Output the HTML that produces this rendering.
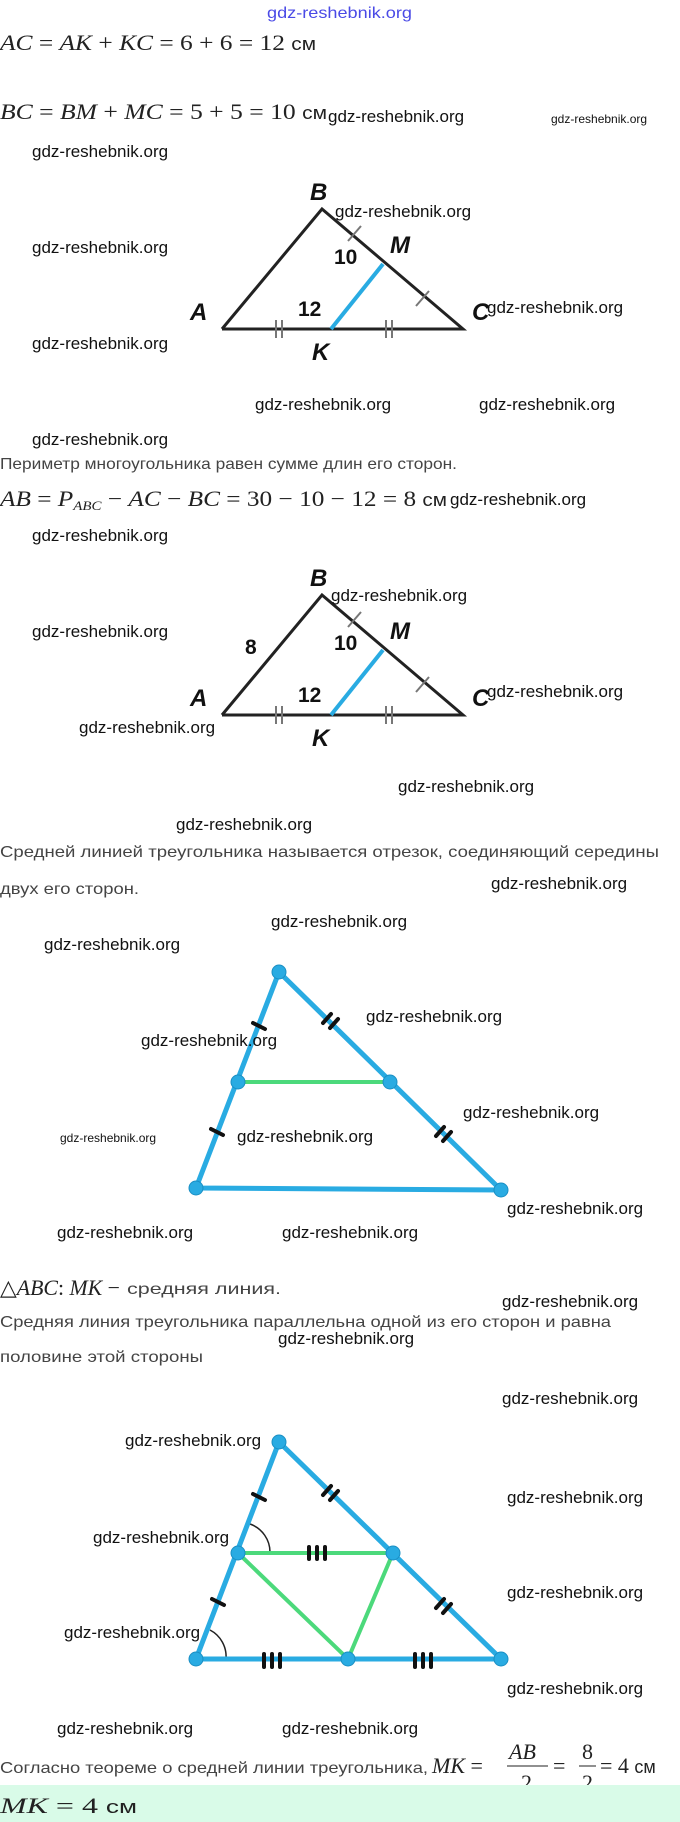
<!DOCTYPE html>
<html><head><meta charset="utf-8"><style>
html,body{margin:0;padding:0;background:#fff;}
svg{display:block}
.w{font-family:"Liberation Sans",sans-serif;font-size:17px;fill:#111;}
.ws{font-family:"Liberation Sans",sans-serif;font-size:12px;fill:#111;}
.m{font-family:"Liberation Serif",serif;font-size:22px;fill:#222;}
.mi{font-style:italic}
.r{font-family:"Liberation Sans","DejaVu Sans",sans-serif;font-size:16px;fill:#444;}
.lb{font-family:"Liberation Sans",sans-serif;font-size:24px;font-weight:bold;font-style:italic;fill:#111;}
.nm{font-family:"Liberation Sans",sans-serif;font-size:21px;font-weight:bold;fill:#111;}
</style></head><body>
<svg width="680" height="1822" viewBox="0 0 680 1822" xmlns="http://www.w3.org/2000/svg">
<text x="267" y="18" font-family="Liberation Sans,sans-serif" font-size="16" fill="#4a4ae6" textLength="145" lengthAdjust="spacingAndGlyphs">gdz-reshebnik.org</text>

<text class="m" x="0" y="50" textLength="316" lengthAdjust="spacingAndGlyphs"><tspan class="mi">AC</tspan> = <tspan class="mi">AK</tspan> + <tspan class="mi">KC</tspan> = 6 + 6 = 12 <tspan font-family="Liberation Sans" font-size="18">см</tspan></text>
<text class="m" x="0" y="119" textLength="327" lengthAdjust="spacingAndGlyphs"><tspan class="mi">BC</tspan> = <tspan class="mi">BM</tspan> + <tspan class="mi">MC</tspan> = 5 + 5 = 10 <tspan font-family="Liberation Sans" font-size="18">см</tspan></text>

<!-- triangle 1 -->
<g>
<polyline points="222,329 322,209 463,329 222,329" fill="none" stroke="#222" stroke-width="3"/>
<line x1="331" y1="329" x2="383" y2="264" stroke="#29abe2" stroke-width="4"/>
<g stroke="#777" stroke-width="2"><line x1="276" y1="320" x2="276" y2="338"/><line x1="282" y1="320" x2="282" y2="338"/><line x1="386" y1="320" x2="386" y2="338"/><line x1="392" y1="320" x2="392" y2="338"/><line x1="348" y1="241" x2="361" y2="226"/><line x1="416" y1="306" x2="429" y2="291"/></g>
<text class="lb" x="310" y="200">B</text><text class="lb" x="190" y="320">A</text><text class="lb" x="472" y="320">C</text><text class="lb" x="312" y="360">K</text><text class="lb" x="390" y="253">M</text>
<text class="nm" x="334" y="264">10</text><text class="nm" x="298" y="316">12</text>
</g>

<text class="r" x="0" y="469" textLength="457" lengthAdjust="spacingAndGlyphs">Периметр многоугольника равен сумме длин его сторон.</text>
<text class="m" x="0" y="506" textLength="447" lengthAdjust="spacingAndGlyphs"><tspan class="mi">AB</tspan> = <tspan class="mi">P</tspan><tspan class="mi" font-size="13" dy="4">ABC</tspan><tspan dy="-4"> − </tspan><tspan class="mi">AC</tspan> − <tspan class="mi">BC</tspan> = 30 − 10 − 12 = 8 <tspan font-family="Liberation Sans" font-size="18">см</tspan></text>

<!-- triangle 2 -->
<g transform="translate(0,386)">
<polyline points="222,329 322,209 463,329 222,329" fill="none" stroke="#222" stroke-width="3"/>
<line x1="331" y1="329" x2="383" y2="264" stroke="#29abe2" stroke-width="4"/>
<g stroke="#777" stroke-width="2"><line x1="276" y1="320" x2="276" y2="338"/><line x1="282" y1="320" x2="282" y2="338"/><line x1="386" y1="320" x2="386" y2="338"/><line x1="392" y1="320" x2="392" y2="338"/><line x1="348" y1="241" x2="361" y2="226"/><line x1="416" y1="306" x2="429" y2="291"/></g>
<text class="lb" x="310" y="200">B</text><text class="lb" x="190" y="320">A</text><text class="lb" x="472" y="320">C</text><text class="lb" x="312" y="360">K</text><text class="lb" x="390" y="253">M</text>
<text class="nm" x="334" y="264">10</text><text class="nm" x="298" y="316">12</text><text class="nm" x="245" y="268">8</text>
</g>

<text class="r" x="0" y="857" textLength="659" lengthAdjust="spacingAndGlyphs">Средней линией треугольника называется отрезок, соединяющий середины</text>
<text class="r" x="0" y="894" textLength="139" lengthAdjust="spacingAndGlyphs">двух его сторон.</text>

<!-- triangle 3 -->
<g>
<polygon points="279,972 196,1188 501,1190" fill="none" stroke="#29abe2" stroke-width="5" stroke-linejoin="round"/>
<line x1="238" y1="1082" x2="390" y2="1082" stroke="#4cd97b" stroke-width="4"/>
<g stroke="#111" stroke-width="4" stroke-linecap="round"><line x1="253" y1="1023" x2="265" y2="1029"/><line x1="211" y1="1129" x2="223" y2="1135"/><line x1="323" y1="1023" x2="331" y2="1014"/><line x1="330" y1="1028" x2="338" y2="1019"/><line x1="436" y1="1136" x2="444" y2="1127"/><line x1="443" y1="1141" x2="451" y2="1132"/></g>
<g fill="#29abe2" stroke="#1a8fc4" stroke-width="1"><circle cx="279" cy="972" r="7"/><circle cx="238" cy="1082" r="7"/><circle cx="390" cy="1082" r="7"/><circle cx="196" cy="1188" r="7"/><circle cx="501" cy="1190" r="7"/></g>
</g>

<text class="m" x="0" y="1295" textLength="120" lengthAdjust="spacingAndGlyphs">△<tspan class="mi">ABC</tspan>: <tspan class="mi">MK</tspan> −</text>
<text class="r" x="127" y="1294" textLength="154" lengthAdjust="spacingAndGlyphs">средняя линия.</text>
<text class="r" x="0" y="1327" textLength="611" lengthAdjust="spacingAndGlyphs">Средняя линия треугольника параллельна одной из его сторон и равна</text>
<text class="r" x="0" y="1362" textLength="203" lengthAdjust="spacingAndGlyphs">половине этой стороны</text>

<!-- triangle 4 -->
<g>
<path d="M250,1524 A30,30 0 0 1 270,1553" fill="none" stroke="#222" stroke-width="1.5"/>
<path d="M210,1630 A30,30 0 0 1 226,1659" fill="none" stroke="#222" stroke-width="1.5"/>
<polygon points="279,1442 196,1659 501,1659" fill="none" stroke="#29abe2" stroke-width="5" stroke-linejoin="round"/>
<polygon points="238,1553 393,1553 348,1659" fill="none" stroke="#4cd97b" stroke-width="4" stroke-linejoin="round"/>
<g stroke="#111" stroke-width="4" stroke-linecap="round"><line x1="253" y1="1494" x2="265" y2="1500"/><line x1="212" y1="1599" x2="224" y2="1605"/><line x1="323" y1="1495" x2="331" y2="1486"/><line x1="330" y1="1500" x2="338" y2="1491"/><line x1="436" y1="1608" x2="444" y2="1599"/><line x1="443" y1="1613" x2="451" y2="1604"/>
<line x1="309" y1="1547" x2="309" y2="1559"/><line x1="317" y1="1547" x2="317" y2="1559"/><line x1="325" y1="1547" x2="325" y2="1559"/>
<line x1="264" y1="1654" x2="264" y2="1667"/><line x1="272" y1="1654" x2="272" y2="1667"/><line x1="280" y1="1654" x2="280" y2="1667"/>
<line x1="415" y1="1654" x2="415" y2="1667"/><line x1="423" y1="1654" x2="423" y2="1667"/><line x1="431" y1="1654" x2="431" y2="1667"/></g>
<g fill="#29abe2" stroke="#1a8fc4" stroke-width="1"><circle cx="279" cy="1442" r="7"/><circle cx="238" cy="1553" r="7"/><circle cx="393" cy="1553" r="7"/><circle cx="196" cy="1659" r="7"/><circle cx="348" cy="1659" r="7"/><circle cx="501" cy="1659" r="7"/></g>
</g>

<!-- final -->
<text class="r" x="0" y="1773" textLength="428" lengthAdjust="spacingAndGlyphs">Согласно теореме о средней линии треугольника,</text>
<text class="m" x="432" y="1773"><tspan class="mi">MK</tspan> =</text>
<text class="m" x="509" y="1759" font-size="19"><tspan class="mi">AB</tspan></text>
<line x1="507" y1="1766" x2="548" y2="1766" stroke="#222" stroke-width="1"/>
<text class="m" x="521" y="1790" font-size="19">2</text>
<text class="m" x="553" y="1773">=</text>
<text class="m" x="582" y="1759" font-size="19">8</text>
<line x1="579" y1="1766" x2="596" y2="1766" stroke="#222" stroke-width="1"/>
<text class="m" x="582" y="1790" font-size="19">2</text>
<text class="m" x="600" y="1773">= 4 <tspan font-family="Liberation Sans" font-size="18">см</tspan></text>
<rect x="0" y="1785" width="680" height="37" fill="#d9fbe8"/>
<text class="m" x="0" y="1813" textLength="137" lengthAdjust="spacingAndGlyphs"><tspan class="mi">MK</tspan> = 4 <tspan font-family="Liberation Sans" font-size="18">см</tspan></text>

<!-- watermarks -->
<g class="w">
<text x="328" y="122">gdz-reshebnik.org</text>
<text x="32" y="157">gdz-reshebnik.org</text>
<text x="335" y="217">gdz-reshebnik.org</text>
<text x="32" y="253">gdz-reshebnik.org</text>
<text x="487" y="313">gdz-reshebnik.org</text>
<text x="32" y="349">gdz-reshebnik.org</text>
<text x="255" y="410">gdz-reshebnik.org</text>
<text x="479" y="410">gdz-reshebnik.org</text>
<text x="32" y="445">gdz-reshebnik.org</text>
<text x="450" y="505">gdz-reshebnik.org</text>
<text x="32" y="541">gdz-reshebnik.org</text>
<text x="331" y="601">gdz-reshebnik.org</text>
<text x="32" y="637">gdz-reshebnik.org</text>
<text x="487" y="697">gdz-reshebnik.org</text>
<text x="79" y="733">gdz-reshebnik.org</text>
<text x="398" y="792">gdz-reshebnik.org</text>
<text x="176" y="830">gdz-reshebnik.org</text>
<text x="491" y="889">gdz-reshebnik.org</text>
<text x="271" y="927">gdz-reshebnik.org</text>
<text x="44" y="950">gdz-reshebnik.org</text>
<text x="366" y="1022">gdz-reshebnik.org</text>
<text x="141" y="1046">gdz-reshebnik.org</text>
<text x="463" y="1118">gdz-reshebnik.org</text>
<text x="237" y="1142">gdz-reshebnik.org</text>
<text x="507" y="1214">gdz-reshebnik.org</text>
<text x="57" y="1238">gdz-reshebnik.org</text>
<text x="282" y="1238">gdz-reshebnik.org</text>
<text x="502" y="1307">gdz-reshebnik.org</text>
<text x="278" y="1344">gdz-reshebnik.org</text>
<text x="502" y="1404">gdz-reshebnik.org</text>
<text x="125" y="1446">gdz-reshebnik.org</text>
<text x="507" y="1503">gdz-reshebnik.org</text>
<text x="93" y="1543">gdz-reshebnik.org</text>
<text x="507" y="1598">gdz-reshebnik.org</text>
<text x="64" y="1638">gdz-reshebnik.org</text>
<text x="507" y="1694">gdz-reshebnik.org</text>
<text x="57" y="1734">gdz-reshebnik.org</text>
<text x="282" y="1734">gdz-reshebnik.org</text>
</g>
<g class="ws">
<text x="551" y="123">gdz-reshebnik.org</text>
<text x="60" y="1142">gdz-reshebnik.org</text>
</g>
</svg>
</body></html>
